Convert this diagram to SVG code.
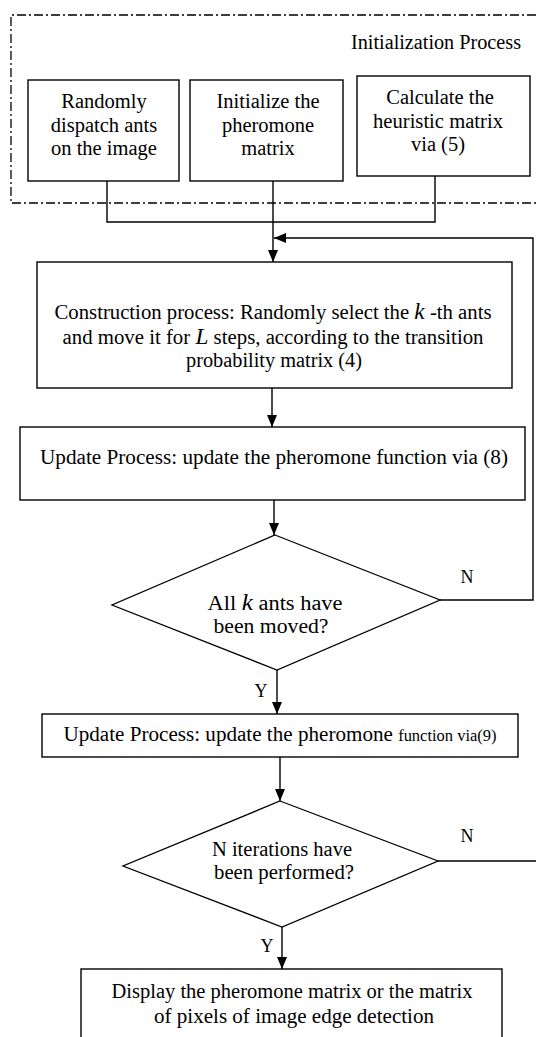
<svg xmlns="http://www.w3.org/2000/svg" width="536" height="1037" viewBox="0 0 536 1037">
<style>
.box{fill:#fff;stroke:#000;stroke-width:1.4}
.dia{fill:#fff;stroke:#000;stroke-width:1.3}
.ln{fill:none;stroke:#000;stroke-width:1.4}
.dash{fill:none;stroke:#000;stroke-width:1.3;stroke-dasharray:9,3,2,3}
text{font-family:"Liberation Serif","Times New Roman",serif;font-size:20.5px;fill:#000;text-anchor:middle}
.m{font-style:italic;font-size:23px}
.lbl{font-size:18px}
</style>
<defs>
<marker id="ah" viewBox="0 0 12 10" refX="12" refY="5" markerWidth="12" markerHeight="10" markerUnits="userSpaceOnUse" orient="auto">
<path d="M0,0 L12,5 L0,10 z" fill="#000"/>
</marker>
</defs>
<rect width="536" height="1037" fill="#fff"/>
<g id="init-region">
<path class="dash" d="M536,15 H11 V203 H536"/>
<text x="521" y="49" style="text-anchor:end" textLength="170" lengthAdjust="spacingAndGlyphs">Initialization Process</text>
</g>
<g id="connectors">
<path class="ln" d="M107,181 V222 H435 V176"/>
<path class="ln" d="M273,181 V262" marker-end="url(#ah)"/>
<path class="ln" d="M440,600 H533 V238 H274" marker-end="url(#ah)"/>
<path class="ln" d="M272,388 V427" marker-end="url(#ah)"/>
<path class="ln" d="M274,500 V535" marker-end="url(#ah)"/>
<path class="ln" d="M277,670 V714" marker-end="url(#ah)"/>
<path class="ln" d="M280,757 V801" marker-end="url(#ah)"/>
<path class="ln" d="M438,861 H536"/>
<path class="ln" d="M282,927 V969" marker-end="url(#ah)"/>
<text class="lbl" x="467" y="583">N</text>
<text class="lbl" x="261" y="697">Y</text>
<text class="lbl" x="467" y="842">N</text>
<text class="lbl" x="267" y="952">Y</text>
</g>
<g id="dispatch">
<rect class="box" x="28" y="80" width="151" height="101"/>
<text x="104" y="108">Randomly</text>
<text x="104" y="132">dispatch ants</text>
<text x="104" y="155">on the image</text>
</g>
<g id="init-pheromone">
<rect class="box" x="190" y="80" width="153" height="101"/>
<text x="268" y="108">Initialize the</text>
<text x="268" y="132">pheromone</text>
<text x="268" y="155">matrix</text>
</g>
<g id="heuristic">
<rect class="box" x="357" y="76" width="173" height="100"/>
<text x="440" y="104">Calculate the</text>
<text x="438" y="128" textLength="130" lengthAdjust="spacingAndGlyphs">heuristic matrix</text>
<text x="438" y="151">via (5)</text>
</g>
<g id="construction">
<rect class="box" x="37" y="262" width="475" height="126"/>
<text x="273" y="319" textLength="437" lengthAdjust="spacingAndGlyphs">Construction process: Randomly select the <tspan class="m">k</tspan> -th ants</text>
<text x="273" y="344" textLength="421" lengthAdjust="spacingAndGlyphs">and move it for <tspan class="m">L</tspan> steps, according to the transition</text>
<text x="274" y="367" textLength="176" lengthAdjust="spacingAndGlyphs">probability matrix (4)</text>
</g>
<g id="update8">
<rect class="box" x="20" y="427" width="505" height="73"/>
<text x="274" y="464" textLength="468" lengthAdjust="spacingAndGlyphs">Update Process: update the pheromone function via (8)</text>
</g>
<g id="all-moved">
<polygon class="dia" points="275,535 440,600 277,670 112,605"/>
<text x="275" y="610" textLength="135" lengthAdjust="spacingAndGlyphs">All <tspan class="m">k</tspan>  ants have</text>
<text x="271" y="633" textLength="115" lengthAdjust="spacingAndGlyphs">been moved?</text>
</g>
<g id="update9">
<rect class="box" x="42" y="714" width="476" height="43"/>
<text x="280" y="741" textLength="433" lengthAdjust="spacingAndGlyphs">Update Process: update the pheromone <tspan style="font-size:16px">function via(9)</tspan></text>
</g>
<g id="iterations">
<polygon class="dia" points="280,801 438,861 282,927 123,866"/>
<text x="282" y="856" textLength="140" lengthAdjust="spacingAndGlyphs">N iterations have</text>
<text x="284" y="879" textLength="140" lengthAdjust="spacingAndGlyphs">been performed?</text>
</g>
<g id="display">
<rect class="box" x="81" y="969" width="421" height="80"/>
<text x="292" y="998" textLength="361" lengthAdjust="spacingAndGlyphs">Display the pheromone matrix or the matrix</text>
<text x="294" y="1023" textLength="280" lengthAdjust="spacingAndGlyphs">of pixels of image edge detection</text>
</g>
</svg>
